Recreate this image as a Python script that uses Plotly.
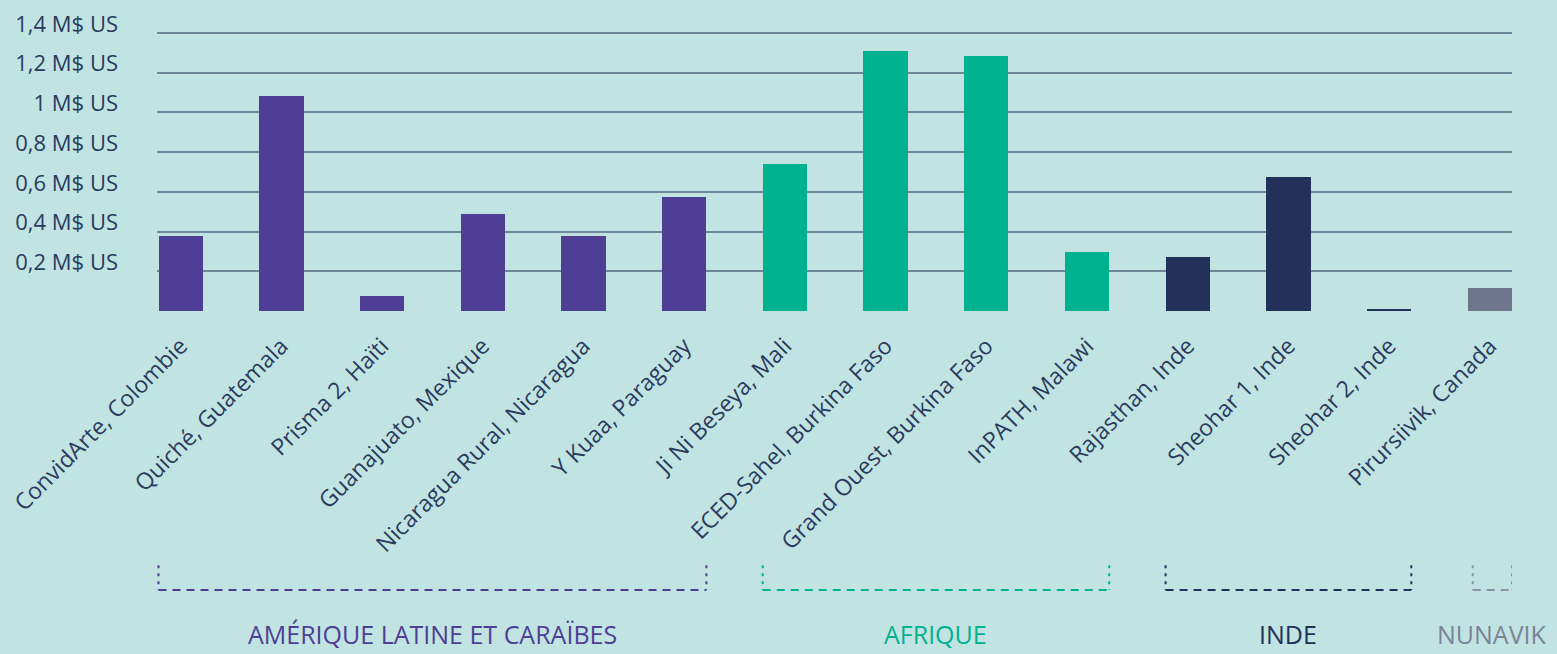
import plotly.graph_objects as go

# projets et montants (M$ US)
projets = [
    "ConvidArte, Colombie", "Quiché, Guatemala", "Prisma 2, Haïti",
    "Guanajuato, Mexique", "Nicaragua Rural, Nicaragua", "Y Kuaa, Paraguay",
    "Ji Ni Beseya, Mali", "ECED-Sahel, Burkina Faso", "Grand Ouest, Burkina Faso",
    "InPATH, Malawi", "Rajasthan, Inde", "Sheohar 1, Inde", "Sheohar 2, Inde",
    "Pirursiivik, Canada",
]
montants = [0.38, 1.083, 0.076, 0.489, 0.38, 0.574, 0.74, 1.31, 1.284,
            0.297, 0.272, 0.675, 0.01, 0.116]

regions = ["AMÉRIQUE LATINE ET CARAÏBES", "AFRIQUE", "INDE", "NUNAVIK"]
region_debut = [0, 6, 10, 13]
region_fin = [5, 9, 12, 13]
region_couleurs = ["#4e3e96", "#00b190", "#23305a", "#6e758c"]
region_texte = ["#4e3e96", "#00b190", "#23305a", "#7c8398"]

tick_vals = [0.2, 0.4, 0.6, 0.8, 1.0, 1.2, 1.4]
tick_text = ["0,2 M$ US", "0,4 M$ US", "0,6 M$ US", "0,8 M$ US",
             "1 M$ US", "1,2 M$ US", "1,4 M$ US"]

bg = "#c1e4e2"
bar_w = 0.44
police = "Open Sans, sans-serif"

couleurs = []
for i in range(len(projets)):
    for r in range(len(regions)):
        if region_debut[r] <= i <= region_fin[r]:
            couleurs.append(region_couleurs[r])

fig = go.Figure()
fig.add_trace(go.Bar(
    x=list(range(len(projets))),
    y=montants,
    width=bar_w,
    marker=dict(color=couleurs, line=dict(width=0)),
))

# accolades pointillées + noms des régions
for r, nom in enumerate(regions):
    x0 = region_debut[r] - bar_w / 2
    x1 = region_fin[r] + bar_w / 2
    if nom == "NUNAVIK":
        x0 += 0.05
    col = region_couleurs[r] if nom != "NUNAVIK" else "#8a92a6"
    fig.add_shape(type="line", xref="x", yref="paper", x0=x0, x1=x1,
                  y0=-0.989, y1=-0.989,
                  line=dict(color=col, width=2, dash="8px,6px"))
    for xx in (x0, x1):
        fig.add_shape(type="line", xref="x", yref="paper", x0=xx, x1=xx,
                      y0=-0.902, y1=-0.989,
                      line=dict(color=col, width=2, dash="3px,5px"))
    fig.add_annotation(x=(x0 + x1) / 2, y=-1.146, xref="x", yref="paper",
                       xanchor="center", yanchor="middle",
                       text=nom, showarrow=False,
                       font=dict(family=police, size=25,
                                 color=region_texte[r]))

fig.update_layout(
    width=1557, height=654,
    margin=dict(l=157, r=45, t=29, b=343, autoexpand=False),
    paper_bgcolor=bg, plot_bgcolor=bg,
    font=dict(family=police, size=22, color="#2b3a5e"),
    showlegend=False,
    bargap=0,
    xaxis=dict(
        range=[-0.235, 13.22],
        tickmode="array",
        tickvals=list(range(len(projets))),
        ticktext=projets,
        tickangle=-45,
        showgrid=False,
        zeroline=False,
        showline=False,
        ticks="",
        automargin=False,
        ticklabelstandoff=16,
        tickfont=dict(family=police, size=23, color="#2b3a5e"),
    ),
    yaxis=dict(
        range=[0, 1.42],
        tickmode="array",
        tickvals=[0] + tick_vals,
        ticktext=[""] + tick_text,
        showgrid=True,
        gridcolor="#6f8799",
        gridwidth=1.5,
        zeroline=False,
        showline=False,
        ticks="",
        automargin=False,
        ticklabelstandoff=38,
        ticklabelshift=-9,
        tickfont=dict(family=police, size=22, color="#2b3a5e"),
    ),
)

fig.write_html("out.html", config={"displayModeBar": False},
               post_script="document.body.style.margin='0';")
